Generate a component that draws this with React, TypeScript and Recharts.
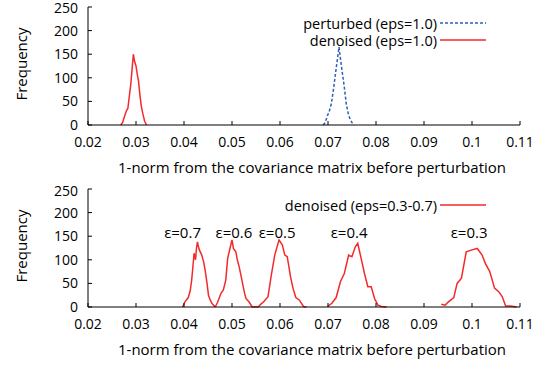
import React from 'react';
import { LineChart, Line, XAxis, YAxis, Legend, ReferenceDot } from 'recharts';

const xTicks = [0.02, 0.03, 0.04, 0.05, 0.06, 0.07, 0.08, 0.09, 0.1, 0.11];
const yTicks = [0, 50, 100, 150, 200, 250];

// top panel, eps = 1.0
const perturbed1 = [
  { x: 0.069, y: 0 }, { x: 0.0694, y: 5 }, { x: 0.0699, y: 20 }, { x: 0.0703, y: 30 },
  { x: 0.0707, y: 45 }, { x: 0.0712, y: 80 }, { x: 0.0717, y: 120 }, { x: 0.0721, y: 150 },
  { x: 0.0723, y: 165 }, { x: 0.0726, y: 140 }, { x: 0.073, y: 110 }, { x: 0.0734, y: 80 },
  { x: 0.0738, y: 45 }, { x: 0.0742, y: 25 }, { x: 0.0746, y: 12 }, { x: 0.075, y: 5 },
  { x: 0.0754, y: 0 },
];
const denoised1 = [
  { x: 0.0268, y: 0 }, { x: 0.0272, y: 5 }, { x: 0.0276, y: 18 }, { x: 0.028, y: 30 },
  { x: 0.0283, y: 35 }, { x: 0.0286, y: 60 }, { x: 0.0289, y: 85 }, { x: 0.0292, y: 120 },
  { x: 0.02945, y: 150 }, { x: 0.0297, y: 135 }, { x: 0.03, y: 125 }, { x: 0.0303, y: 105 },
  { x: 0.0305, y: 95 }, { x: 0.0308, y: 65 }, { x: 0.0311, y: 40 }, { x: 0.0314, y: 25 },
  { x: 0.0318, y: 8 }, { x: 0.0322, y: 0 },
];

// bottom panel, eps = 0.3 .. 0.7
const denoised07 = [
  { x: 0.0397, y: 0 }, { x: 0.0402, y: 11 }, { x: 0.0409, y: 20 }, { x: 0.0413, y: 35 },
  { x: 0.0416, y: 57 }, { x: 0.0419, y: 90 }, { x: 0.0421, y: 114 }, { x: 0.0424, y: 100 },
  { x: 0.0426, y: 125 }, { x: 0.0428, y: 138 }, { x: 0.043, y: 128 }, { x: 0.0432, y: 121 },
  { x: 0.0437, y: 110 }, { x: 0.0441, y: 95 }, { x: 0.0444, y: 78 }, { x: 0.0448, y: 50 },
  { x: 0.0451, y: 25 }, { x: 0.0455, y: 14 }, { x: 0.0458, y: 8 }, { x: 0.0465, y: 0 },
];
const denoised06 = [
  { x: 0.0465, y: 0 }, { x: 0.047, y: 10 }, { x: 0.0477, y: 29 }, { x: 0.0482, y: 36 },
  { x: 0.0487, y: 57 }, { x: 0.0491, y: 103 }, { x: 0.0496, y: 125 }, { x: 0.05, y: 142 },
  { x: 0.0503, y: 124 }, { x: 0.0508, y: 117 }, { x: 0.0511, y: 100 }, { x: 0.0515, y: 85 },
  { x: 0.0522, y: 50 }, { x: 0.0526, y: 30 }, { x: 0.0529, y: 18 }, { x: 0.0536, y: 10 },
  { x: 0.0542, y: 0 }, { x: 0.0555, y: 0 },
];
const denoised05 = [
  { x: 0.0555, y: 0 }, { x: 0.0559, y: 5 }, { x: 0.0566, y: 11 }, { x: 0.0575, y: 22 },
  { x: 0.0582, y: 68 }, { x: 0.0589, y: 110 }, { x: 0.0594, y: 128 }, { x: 0.0598, y: 142 },
  { x: 0.0605, y: 131 }, { x: 0.061, y: 110 }, { x: 0.0615, y: 107 }, { x: 0.0622, y: 64 },
  { x: 0.0627, y: 40 }, { x: 0.0633, y: 20 }, { x: 0.064, y: 15 }, { x: 0.0649, y: 1 },
  { x: 0.0655, y: 0 },
];
const denoised04 = [
  { x: 0.0699, y: 1 }, { x: 0.0708, y: 8 }, { x: 0.0717, y: 20 }, { x: 0.0726, y: 54 },
  { x: 0.0734, y: 71 }, { x: 0.0743, y: 110 }, { x: 0.0746, y: 108 }, { x: 0.075, y: 107 },
  { x: 0.0757, y: 128 }, { x: 0.0762, y: 135 }, { x: 0.0769, y: 103 }, { x: 0.0776, y: 71 },
  { x: 0.0783, y: 43 }, { x: 0.079, y: 43 }, { x: 0.0797, y: 18 }, { x: 0.0804, y: 4 },
  { x: 0.0811, y: 1 }, { x: 0.0822, y: 0 },
];
const denoised03 = [
  { x: 0.0936, y: 6 }, { x: 0.0944, y: 4 }, { x: 0.0951, y: 11 }, { x: 0.0962, y: 20 },
  { x: 0.0969, y: 50 }, { x: 0.0978, y: 61 }, { x: 0.0988, y: 117 }, { x: 0.1, y: 121 },
  { x: 0.1011, y: 124 }, { x: 0.1021, y: 110 }, { x: 0.1028, y: 92 }, { x: 0.1037, y: 75 },
  { x: 0.1047, y: 40 }, { x: 0.1056, y: 32 }, { x: 0.1063, y: 22 }, { x: 0.107, y: 2 },
  { x: 0.108, y: 2 }, { x: 0.1093, y: 0 },
];
const lowSeries = [denoised07, denoised06, denoised05, denoised04, denoised03];

const epsLabels = [
  { x: 0.0397, y: 157, text: 'ε=0.7' },
  { x: 0.0504, y: 157, text: 'ε=0.6' },
  { x: 0.0594, y: 157, text: 'ε=0.5' },
  { x: 0.0744, y: 157, text: 'ε=0.4' },
  { x: 0.0994, y: 157, text: 'ε=0.3' },
];

const RED = '#f42a2a';
const BLUE = '#2f5fb8';
const FONT = 'Open Sans';
const xTitle = '1-norm from the covariance matrix before perturbation';

const topLegend = [
  { label: 'perturbed (eps=1.0)', color: BLUE, dash: '3 2' },
  { label: 'denoised (eps=1.0)', color: RED, dash: undefined },
];
const bottomLegend = [{ label: 'denoised (eps=0.3-0.7)', color: RED, dash: undefined }];

const tickStyle = { fill: '#000', fontSize: 14, fontFamily: FONT };
const noTick = () => <g />;

const FreqLabel = (props: any) => {
  const vb = props.viewBox;
  const cy = vb.y + vb.height / 2 - 2;
  return (
    <text x={21} y={cy} transform={`rotate(-90 21 ${cy})`} textAnchor="middle"
      dominantBaseline="central" fill="#000" fontSize={15} fontFamily={FONT}>
      Frequency
    </text>
  );
};

const XTitle = (props: any) => {
  const vb = props.viewBox;
  return (
    <text x={312} y={vb.y + vb.height - 2} textAnchor="middle" fill="#000"
      fontSize={15} fontFamily={FONT}>
      {xTitle}
    </text>
  );
};

const makeLegend = (items: typeof topLegend, top: number) => () => (
  <svg width={548} height={top + items.length * 17 + 10} style={{ display: 'block' }}>
    {items.map((it, i) => {
      const y = top + i * 17;
      return (
        <g key={it.label}>
          <text x={437} y={y} textAnchor="end" dominantBaseline="central" fill="#000"
            fontSize={14.5} fontFamily={FONT}>{it.label}</text>
          <line x1={440} x2={486} y1={y} y2={y} stroke={it.color} strokeWidth={1.5}
            strokeDasharray={it.dash} />
        </g>
      );
    })}
  </svg>
);

const frame = () => [
  <XAxis key="xb" xAxisId={0} type="number" dataKey="x" domain={[0.02, 0.11]} ticks={xTicks}
    allowDataOverflow height={50} tick={tickStyle} tickSize={-4} tickMargin={16}
    axisLine={{ stroke: '#000' }} tickLine={{ stroke: '#000' }} label={<XTitle />} />,
  <XAxis key="xt" xAxisId="t" orientation="top" type="number" dataKey="x" domain={[0.02, 0.11]}
    ticks={xTicks} allowDataOverflow height={0} tick={noTick} tickSize={-4}
    axisLine={{ stroke: '#000' }} tickLine={{ stroke: '#000' }} />,
  <YAxis key="yl" yAxisId={0} type="number" domain={[0, 250]} ticks={yTicks} width={80}
    tick={tickStyle} tickSize={-4} tickMargin={14} axisLine={{ stroke: '#000' }}
    tickLine={{ stroke: '#000' }} label={<FreqLabel />} />,
  <YAxis key="yr" yAxisId="r" orientation="right" type="number" domain={[0, 250]} ticks={yTicks}
    width={0} tick={noTick} tickSize={-4} axisLine={{ stroke: '#000' }} tickLine={{ stroke: '#000' }} />,
];

export default function App() {
  return (
    <div style={{ position: 'absolute', left: 0, top: 0, width: 548, height: 367, background: '#fff', fontFamily: FONT }}>
      <LineChart width={548} height={183} margin={{ top: 7, right: 28, bottom: 8, left: 8 }}>
        {frame()}
        <Legend layout="vertical" align="center" verticalAlign="middle"
          wrapperStyle={{ left: 0, top: 0, width: 548 }} content={makeLegend(topLegend, 23)} />
        <Line data={perturbed1} dataKey="y" stroke={BLUE} strokeWidth={1.5} strokeDasharray="3 2"
          dot={false} isAnimationActive={false} type="linear" />
        <Line data={denoised1} dataKey="y" stroke={RED} strokeWidth={1.5}
          dot={false} isAnimationActive={false} type="linear" />
      </LineChart>
      <LineChart width={548} height={184} margin={{ top: 6, right: 28, bottom: 10, left: 8 }}>
        {frame()}
        <Legend layout="vertical" align="center" verticalAlign="middle"
          wrapperStyle={{ left: 0, top: 0, width: 548 }} content={makeLegend(bottomLegend, 22)} />
        {lowSeries.map((s, i) => (
          <Line key={i} data={s} dataKey="y" stroke={RED} strokeWidth={1.5}
            dot={false} isAnimationActive={false} type="linear" />
        ))}
        {epsLabels.map((l) => (
          <ReferenceDot key={l.text} x={l.x} y={l.y} r={0} fill="none" stroke="none"
            label={{ value: l.text, position: 'center', fill: '#000', fontSize: 15, fontFamily: FONT }} />
        ))}
      </LineChart>
    </div>
  );
}
